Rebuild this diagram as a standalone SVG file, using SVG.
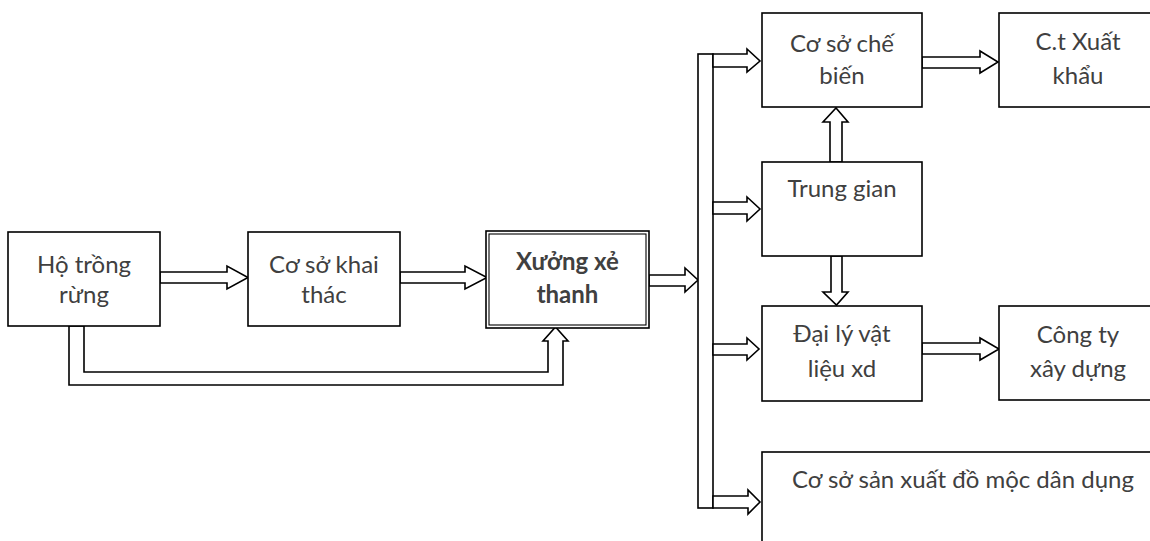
<svg xmlns="http://www.w3.org/2000/svg" width="1150" height="541" viewBox="0 0 1150 541">
<style>
  .box { fill: #ffffff; stroke: #000000; stroke-width: 1.6; }
  .dbl { fill: none; stroke: #000000; stroke-width: 1.1; }
  .arr { fill: #ffffff; stroke: #000000; stroke-width: 1.6; stroke-linejoin: miter; }
  .t { font-family: Lato, "Open Sans", "Liberation Sans", sans-serif; font-size: 24px; fill: #404040; text-anchor: middle; }
  .b { font-weight: bold; }
</style>
<rect x="0" y="0" width="1150" height="541" fill="#ffffff"/>

<g id="connectors">
  <polygon class="arr" points="160,272 227,272 227,266 248,277.5 227,289 227,283 160,283"/>
  <polygon class="arr" points="400,272 465,272 465,266 487,277.5 465,289 465,283 400,283"/>
  <polygon class="arr" points="649,275 685,275 685,268 698,280 685,292 685,286 649,286"/>
  <polygon class="arr" points="69,326 69,385 563,385 563,341 568,341 555.5,327 543,341 548,341 548,372 84,372 84,326"/>
  <rect class="arr" x="698" y="54" width="15" height="454"/>
  <polygon class="arr" points="713,54 747,54 747,49 760,61 747,72 747,67 713,67"/>
  <polygon class="arr" points="713,202 747,202 747,197 760,209 747,221 747,214 713,214"/>
  <polygon class="arr" points="713,344 747,344 747,338 759,349 747,360 747,355 713,355"/>
  <polygon class="arr" points="713,496 748,496 748,490 760,502 748,514 748,508 713,508"/>
  <polygon class="arr" points="922,57 980,57 980,51 998,62 980,73 980,68 922,68"/>
  <polygon class="arr" points="922,343 980,343 980,338 999,349 980,360 980,354 922,354"/>
  <polygon class="arr" points="830,162 830,122 823,122 836,108 848,122 842,122 842,162"/>
  <polygon class="arr" points="831,256 831,292 823,292 836.5,305 848,292 842,292 842,256"/>
</g>

<g id="node-ho-trong-rung">
  <rect class="box" x="8" y="232" width="152" height="94"/>
  <text class="t" x="84" y="273">Hộ trồng</text>
  <text class="t" x="84" y="303">rừng</text>
</g>

<g id="node-co-so-khai-thac">
  <rect class="box" x="248" y="232" width="152" height="94"/>
  <text class="t" x="324" y="273">Cơ sở khai</text>
  <text class="t" x="324" y="303">thác</text>
</g>

<g id="node-xuong-xe-thanh">
  <rect class="box" x="486" y="231" width="163" height="97" stroke-width="1.1"/>
  <rect class="dbl" x="489" y="234" width="157" height="91"/>
  <text class="t b" x="567.5" y="270">Xưởng xẻ</text>
  <text class="t b" x="567.5" y="303">thanh</text>
</g>

<g id="node-co-so-che-bien">
  <rect class="box" x="762" y="13" width="160" height="94"/>
  <text class="t" x="842" y="52">Cơ sở chế</text>
  <text class="t" x="842" y="84">biến</text>
</g>

<g id="node-ct-xuat-khau">
  <rect class="box" x="999" y="13" width="170" height="94"/>
  <text class="t" x="1078" y="50">C.t Xuất</text>
  <text class="t" x="1078" y="84">khẩu</text>
</g>

<g id="node-trung-gian">
  <rect class="box" x="762" y="162" width="160" height="94"/>
  <text class="t" x="842" y="197">Trung gian</text>
</g>

<g id="node-dai-ly">
  <rect class="box" x="762" y="306" width="160" height="95"/>
  <text class="t" x="842" y="342">Đại lý vật</text>
  <text class="t" x="842" y="377">liệu xd</text>
</g>

<g id="node-cong-ty-xay-dung">
  <rect class="box" x="999" y="306" width="170" height="94"/>
  <text class="t" x="1078" y="343">Công ty</text>
  <text class="t" x="1078" y="377">xây dựng</text>
</g>

<g id="node-co-so-do-moc">
  <rect class="box" x="762" y="452" width="410" height="120"/>
  <text class="t" x="963" y="488">Cơ sở sản xuất đồ mộc dân dụng</text>
</g>
</svg>
